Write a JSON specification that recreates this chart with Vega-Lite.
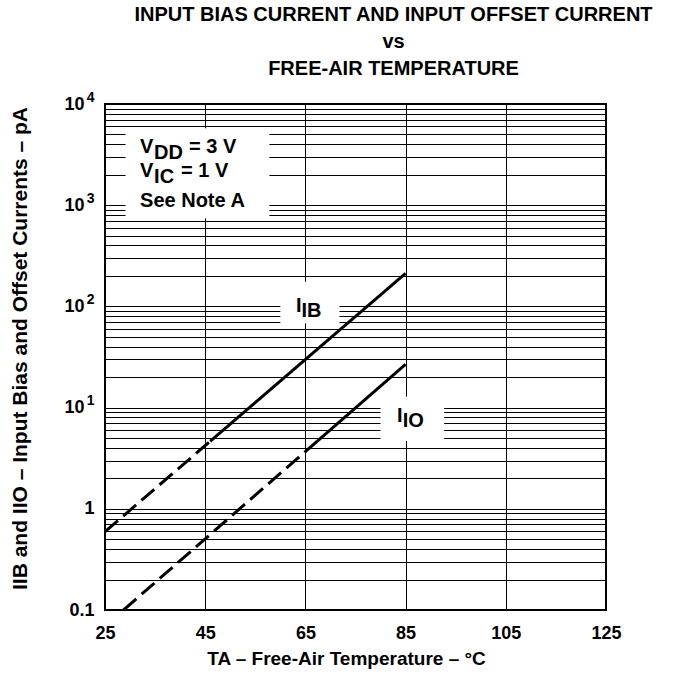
{
  "$schema": "https://vega.github.io/schema/vega-lite/v6.json",
  "width": 501,
  "height": 506,
  "autosize": {"type": "none"},
  "padding": {"left": 105, "top": 104, "right": 68, "bottom": 67},
  "background": "white",
  "config": {
    "font": "Liberation Sans",
    "view": {"stroke": "black", "strokeWidth": 2},
    "axis": {
      "labelFont": "Liberation Sans",
      "titleFont": "Liberation Sans",
      "labelFontWeight": "bold",
      "titleFontWeight": "bold",
      "labelColor": "black",
      "titleColor": "black",
      "gridColor": "black",
      "gridOpacity": 1,
      "gridWidth": 1,
      "domain": false,
      "ticks": false,
      "tickSize": 0
    }
  },
  "title": {
    "text": ["INPUT BIAS CURRENT AND INPUT OFFSET CURRENT", "vs", "FREE-AIR TEMPERATURE"],
    "font": "Liberation Sans",
    "fontSize": 20,
    "fontWeight": "bold",
    "color": "black",
    "anchor": "middle",
    "frame": "group",
    "dx": 38,
    "lineHeight": 27,
    "baseline": "bottom",
    "offset": -9
  },
  "resolve": {"axis": {"y": "independent"}},
  "datasets": {
    "curves": [
      {"series": "IB", "style": "dashed", "x": 25, "y": 0.594},
      {"series": "IB", "style": "dashed", "x": 46, "y": 4.65},
      {"series": "IB", "style": "solid", "x": 46, "y": 4.65},
      {"series": "IB", "style": "solid", "x": 85, "y": 212},
      {"series": "IO", "style": "dashed", "x": 28.7, "y": 0.1},
      {"series": "IO", "style": "dashed", "x": 65, "y": 3.68},
      {"series": "IO", "style": "solid", "x": 65, "y": 3.68},
      {"series": "IO", "style": "solid", "x": 85, "y": 26.8}
    ],
    "boxes": [
      {"x": 29.1, "x2": 57.8, "y": 5754, "y2": 743},
      {"x": 60, "x2": 71.8, "y": 175, "y2": 68},
      {"x": 80, "x2": 92.7, "y": 12.8, "y2": 4.68}
    ],
    "mainText": [
      {"x": 32, "y": 3281, "t": "V"},
      {"x": 32, "y": 1900, "t": "V"},
      {"x": 32, "y": 967, "t": "See Note A"},
      {"x": 63.1, "y": 88.7, "t": "I"},
      {"x": 83.3, "y": 7.26, "t": "I"}
    ],
    "subV": [
      {"x": 32, "y": 3281, "t": "DD"},
      {"x": 32, "y": 1900, "t": "IC"}
    ],
    "subI": [
      {"x": 63.1, "y": 88.7, "t": "IB"},
      {"x": 83.3, "y": 7.26, "t": "IO"}
    ],
    "restDD": [{"x": 32, "y": 3281, "t": "= 3 V"}],
    "restIC": [{"x": 32, "y": 1900, "t": "= 1 V"}]
  },
  "encoding": {
    "x": {
      "field": "x",
      "type": "quantitative",
      "scale": {"domain": [25, 125], "nice": false, "zero": false},
      "axis": {
        "values": [25, 45, 65, 85, 105, 125],
        "grid": true,
        "labelFontSize": 18,
        "labelPadding": 14,
        "labelFlush": false,
        "title": "TA – Free-Air Temperature – °C",
        "titleFontSize": 19,
        "titleX": 241,
        "titleY": 48,
        "titleBaseline": "middle"
      }
    },
    "y": {
      "field": "y",
      "type": "quantitative",
      "scale": {"type": "log", "domain": [0.1, 10000], "nice": false},
      "axis": null
    }
  },
  "layer": [
    {
      "data": {"name": "boxes"},
      "mark": {"type": "rect", "color": "white", "strokeWidth": 0},
      "encoding": {
        "y": {
          "field": "y",
          "type": "quantitative",
          "scale": {"type": "log", "domain": [0.1, 10000], "nice": false},
          "axis": {
            "orient": "left",
            "values": [0.1, 0.2, 0.3, 0.4, 0.5, 0.6, 0.7, 0.8, 0.9, 1, 2, 3, 4, 5, 6, 7, 8, 9, 10, 20, 30, 40, 50, 60, 70, 80, 90, 100, 200, 300, 400, 500, 600, 700, 800, 900, 1000, 2000, 3000, 4000, 5000, 6000, 7000, 8000, 9000, 10000],
            "grid": true,
            "labelExpr": "(datum.value == 10000 || datum.value == 1000 || datum.value == 100 || datum.value == 10) ? '10' : datum.value == 1 ? '1' : datum.value == 0.1 ? '0.1' : ''",
            "labelFontSize": 18,
            "labelPadding": {"condition": {"test": "datum.value >= 10", "value": 21}, "value": 11},
            "labelOverlap": false,
            "labelBound": false,
            "labelFlush": false,
            "title": "IIB and IIO – Input Bias and Offset Currents – pA",
            "titleFontSize": 21,
            "titleAngle": -90,
            "titleX": -85,
            "titleY": 244,
            "titleAlign": "center",
            "titleBaseline": "middle"
          }
        },
        "x2": {"field": "x2"},
        "y2": {"field": "y2"}
      }
    },
    {
      "data": {"name": "curves"},
      "mark": {"type": "line", "color": "black", "strokeWidth": 3, "strokeCap": "butt"},
      "encoding": {
        "y": {
          "field": "y",
          "type": "quantitative",
          "scale": {"type": "log", "domain": [0.1, 10000], "nice": false},
          "axis": {
            "orient": "left",
            "values": [10, 100, 1000, 10000],
            "grid": false,
            "labelExpr": "datum.value == 10000 ? '4' : datum.value == 1000 ? '3' : datum.value == 100 ? '2' : '1'",
            "labelFontSize": 14,
            "labelPadding": 11,
            "labelOffset": -7,
            "labelOverlap": false,
            "labelBound": false,
            "labelFlush": false,
            "title": null
          }
        },
        "detail": [{"field": "series"}, {"field": "style"}],
        "strokeDash": {
          "field": "style",
          "type": "nominal",
          "scale": {"domain": ["dashed", "solid"], "range": [[17, 7], [1, 0]]},
          "legend": null
        }
      }
    },
    {
      "data": {"name": "mainText"},
      "mark": {"type": "text", "align": "left", "baseline": "alphabetic", "fontSize": 20, "fontWeight": "bold", "font": "Liberation Sans", "color": "black"},
      "encoding": {"text": {"field": "t"}}
    },
    {
      "data": {"name": "subV"},
      "mark": {"type": "text", "align": "left", "baseline": "alphabetic", "fontSize": 20, "fontWeight": "bold", "font": "Liberation Sans", "color": "black", "dx": 14, "dy": 6},
      "encoding": {"text": {"field": "t"}}
    },
    {
      "data": {"name": "subI"},
      "mark": {"type": "text", "align": "left", "baseline": "alphabetic", "fontSize": 20, "fontWeight": "bold", "font": "Liberation Sans", "color": "black", "dx": 5.6, "dy": 5},
      "encoding": {"text": {"field": "t"}}
    },
    {
      "data": {"name": "restDD"},
      "mark": {"type": "text", "align": "left", "baseline": "alphabetic", "fontSize": 20, "fontWeight": "bold", "font": "Liberation Sans", "color": "black", "dx": 49},
      "encoding": {"text": {"field": "t"}}
    },
    {
      "data": {"name": "restIC"},
      "mark": {"type": "text", "align": "left", "baseline": "alphabetic", "fontSize": 20, "fontWeight": "bold", "font": "Liberation Sans", "color": "black", "dx": 41},
      "encoding": {"text": {"field": "t"}}
    }
  ]
}
